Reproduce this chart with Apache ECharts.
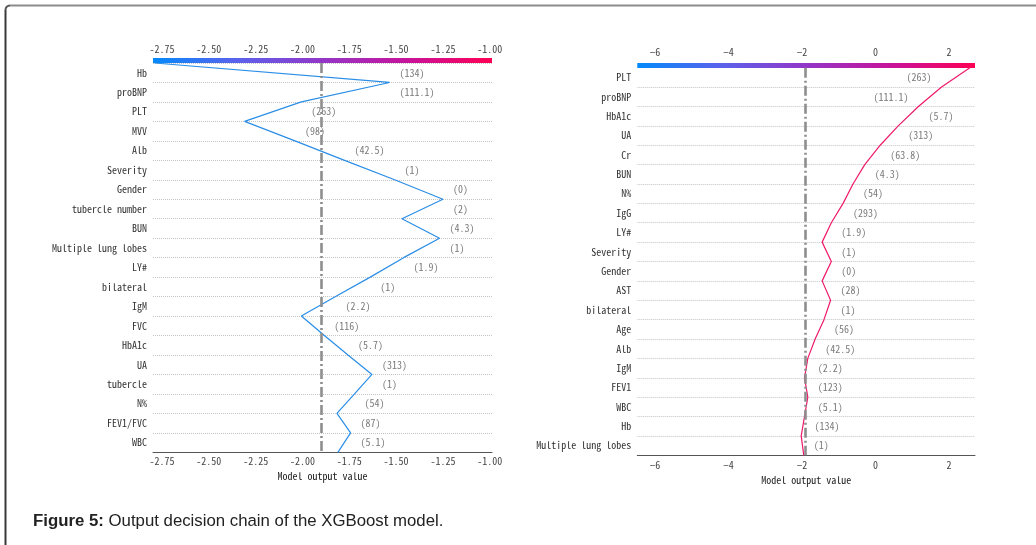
<!DOCTYPE html>
<html>
<head>
<meta charset="utf-8">
<script src="https://cdn.jsdelivr.net/npm/echarts@6/dist/echarts.min.js"></script>
<style>
  html, body { margin: 0; padding: 0; background: #fff; }
  #chart { width: 1036px; height: 545px; }
</style>
</head>
<body>
<div id="chart"></div>
<script>
// ---- Left decision chain ----
const leftFeatures = ['Hb', 'proBNP', 'PLT', 'MVV', 'Alb', 'Severity', 'Gender', 'tubercle number', 'BUN',
  'Multiple lung lobes', 'LY#', 'bilateral', 'IgM', 'FVC', 'HbA1c', 'UA', 'tubercle', 'N%', 'FEV1/FVC', 'WBC'];
const leftFeatureValues = ['134', '111.1', '263', '98', '42.5', '1', '0', '2', '4.3', '1', '1.9', '1', '2.2',
  '116', '5.7', '313', '1', '54', '87', '5.1'];
// cumulative model output at each row boundary, top edge first
const leftPath = [-2.79, -1.535, -2.006, -2.309, -2.04, -1.775, -1.508, -1.25, -1.469, -1.268, -1.46,
  -1.638, -1.823, -2.006, -1.883, -1.757, -1.629, -1.722, -1.816, -1.743, -1.811];
const leftBase = -1.896;
const leftRange = [-2.798, -0.988];
const leftTicks = [-2.75, -2.5, -2.25, -2.0, -1.75, -1.5, -1.25, -1.0];

// ---- Right decision chain ----
const rightFeatures = ['PLT', 'proBNP', 'HbA1c', 'UA', 'Cr', 'BUN', 'N%', 'IgG', 'LY#', 'Severity', 'Gender',
  'AST', 'bilateral', 'Age', 'Alb', 'IgM', 'FEV1', 'WBC', 'Hb', 'Multiple lung lobes'];
const rightFeatureValues = ['263', '111.1', '5.7', '313', '63.8', '4.3', '54', '293', '1.9', '1', '0', '28',
  '1', '56', '42.5', '2.2', '123', '5.1', '134', '1'];
const rightPath = [2.57, 1.80, 1.17, 0.62, 0.13, -0.29, -0.61, -0.88, -1.20, -1.45, -1.20, -1.45, -1.22,
  -1.40, -1.64, -1.84, -1.93, -1.84, -1.93, -2.02, -1.95];
const rightBase = -1.90;
const rightRange = [-6.48, 2.71];
const rightTicks = [-6, -4, -2, 0, 2];

const MONO = "'Noto Sans Mono CJK SC', 'Noto Sans CJK SC', 'DejaVu Sans Mono', monospace";
const LABEL_SIZE = 10;
const measureCtx = document.createElement('canvas').getContext('2d');
function textWidth(t) {
  measureCtx.font = LABEL_SIZE + 'px ' + MONO;
  return measureCtx.measureText(t).width;
}

function colorbarGradient() {
  return new echarts.graphic.LinearGradient(0, 0, 1, 0, [
    { offset: 0, color: '#008bfb' },
    { offset: 0.25, color: '#5a62ec' },
    { offset: 0.5, color: '#9336c8' },
    { offset: 0.75, color: '#c8139a' },
    { offset: 1, color: '#ff0052' }
  ]);
}

function buildAxes(idx, range, ticks, fmt, features, nameGap, labelMargin, topMargin) {
  const common = { gridIndex: idx, type: 'value', min: range[0], max: range[1], splitLine: { show: false } };
  const bottom = Object.assign({}, common, {
    position: 'bottom',
    axisLine: { show: true, onZero: false, lineStyle: { color: '#555', width: 1 } },
    axisTick: { show: false },
    axisLabel: { customValues: ticks, formatter: fmt, margin: labelMargin, color: '#444', fontSize: 10, fontFamily: MONO },
    name: 'Model output value', nameLocation: 'middle', nameGap: nameGap,
    nameTextStyle: { color: '#222', fontSize: 10, fontFamily: MONO }
  });
  const top = Object.assign({}, common, {
    position: 'top', offset: 2.5,
    axisLine: { show: true, onZero: false, lineStyle: { color: colorbarGradient(), width: 5, cap: 'butt' } },
    axisTick: { show: false },
    axisLabel: { customValues: ticks, formatter: fmt, margin: topMargin, color: '#444', fontSize: 10, fontFamily: MONO }
  });
  const y = {
    gridIndex: idx, type: 'value', min: 0, max: features.length, interval: 1, inverse: true,
    axisLine: { show: false }, axisTick: { show: false },
    splitLine: { show: true, lineStyle: { color: '#c4c4c4', type: 'dotted', width: 1 } },
    axisLabel: {
      customValues: features.map((_, i) => i + 0.5),
      formatter: v => features[Math.floor(v)],
      margin: 6, color: '#333', fontSize: 10, fontFamily: MONO
    }
  };
  return { bottom, top, y };
}

function chainSeries(axisIdx, path, base, color) {
  return {
    type: 'line', xAxisIndex: axisIdx, yAxisIndex: axisIdx / 2,
    data: path.map((v, i) => [v, i]),
    showSymbol: false, symbol: 'none', silent: true,
    lineStyle: { color: color, width: 1.2 },
    markLine: {
      silent: true, symbol: ['none', 'none'], label: { show: false },
      lineStyle: { color: '#8e8e8e', width: 2.6, type: [10, 3, 2, 3] },
      data: [{ xAxis: base }]
    },
    z: 3
  };
}

function valueLabelSeries(axisIdx, path, values) {
  return {
    type: 'custom', xAxisIndex: axisIdx, yAxisIndex: axisIdx / 2, silent: true,
    data: values.map((_, i) => [path[i], path[i + 1], i]),
    encode: { x: [0, 1], y: 2 },
    renderItem: function (params, api) {
      const i = api.value(2);
      const p1 = api.coord([api.value(0), i]);
      const p2 = api.coord([api.value(1), i + 1]);
      const yMid = api.coord([api.value(0), i + 0.5])[1];
      const cs = params.coordSys;
      const text = '(' + values[params.dataIndex] + ')';
      const w = textWidth(text);
      const gap = 10;
      const hi = Math.max(p1[0], p2[0]);
      const lo = Math.min(p1[0], p2[0]);
      let x, align;
      if (hi + gap + w <= cs.x + cs.width) { x = hi + gap; align = 'left'; }
      else { x = lo - gap; align = 'right'; }
      return {
        type: 'text',
        style: {
          x: x, y: yMid, text: text, align: align, verticalAlign: 'middle',
          fill: '#7a7a7a', fontSize: LABEL_SIZE, fontFamily: MONO
        }
      };
    },
    z: 4
  };
}

const L = buildAxes(0, leftRange, leftTicks, v => v.toFixed(2), leftFeatures, 14, 4, 6);
const R = buildAxes(1, rightRange, rightTicks, v => (v < 0 ? '\u2212' + Math.abs(v) : String(v)), rightFeatures, 14.5, 5, 8);

const chart = echarts.init(document.getElementById('chart'), null, { renderer: 'canvas' });
chart.setOption({
  animation: false,
  backgroundColor: '#fff',
  title: {
    left: 28, top: 508,
    text: '{b|Figure 5:} Output decision chain of the XGBoost model.',
    textStyle: {
      fontFamily: "'Liberation Sans', Arial, sans-serif", fontSize: 16.8, fontWeight: 'normal', color: '#222',
      rich: { b: { fontFamily: "'Liberation Sans', Arial, sans-serif", fontSize: 16.8, fontWeight: 'bold', color: '#222' } }
    }
  },
  graphic: [
    { type: 'line', shape: { x1: 10, y1: 5.5, x2: 1036, y2: 5.5 }, style: { stroke: '#8c8c8c', lineWidth: 2 }, silent: true },
    { type: 'line', shape: { x1: 5.5, y1: 10, x2: 5.5, y2: 545 }, style: { stroke: '#3a3a3a', lineWidth: 2 }, silent: true },
    { type: 'arc', shape: { cx: 10, cy: 10, r: 4.5, startAngle: Math.PI, endAngle: Math.PI * 1.5 },
      style: { stroke: '#555', lineWidth: 2, fill: null }, silent: true }
  ],
  grid: [
    { left: 153, top: 63, width: 339, height: 389.3 },
    { left: 637.3, top: 67.7, width: 337.7, height: 387.6 }
  ],
  xAxis: [L.bottom, L.top, R.bottom, R.top],
  yAxis: [L.y, R.y],
  series: [
    chainSeries(0, leftPath, leftBase, '#2b8ee6'),
    valueLabelSeries(0, leftPath, leftFeatureValues),
    chainSeries(2, rightPath, rightBase, '#ee1a6a'),
    valueLabelSeries(2, rightPath, rightFeatureValues)
  ]
});
</script>
</body>
</html>
